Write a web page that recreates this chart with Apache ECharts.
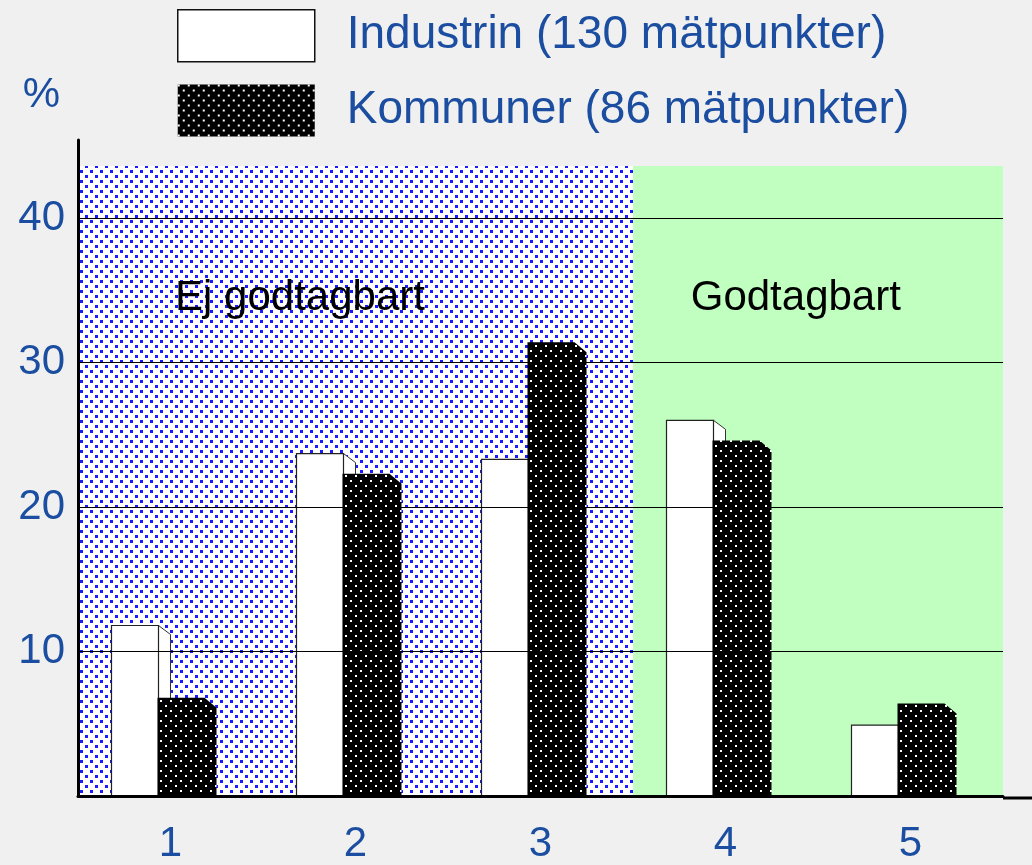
<!DOCTYPE html>
<html>
<head>
<meta charset="utf-8">
<script src="https://cdn.jsdelivr.net/npm/echarts@6/dist/echarts.min.js"></script>
<style>
html, body { margin: 0; padding: 0; background: #f0f0f0; }
#chart { width: 1032px; height: 865px; }
</style>
</head>
<body>
<div id="chart"></div>
<script>
// data
const categories = ['1', '2', '3', '4', '5'];
const industrin = [11.8, 23.7, 23.3, 26.0, 4.9];
const kommuner = [6.8, 22.3, 31.4, 24.6, 6.4];
const seriesNames = ['Industrin (130 mätpunkter)', 'Kommuner (86 mätpunkter)'];
const gridValues = [10, 20, 30, 40];
const zoneNames = ['Ej godtagbart', 'Godtagbart'];
const zoneFrom = [0, 3];
const zoneTo = [3, 5];
const zoneTop = 43.6;

const FONT = '"Liberation Sans", Arial, sans-serif';
const BLUE_TEXT = '#1b4ea0';

// dotted fills
function dotPattern(bg, dot, size) {
  const c = document.createElement('canvas');
  c.width = 10; c.height = 10;
  const ctx = c.getContext('2d');
  ctx.fillStyle = bg;
  ctx.fillRect(0, 0, 10, 10);
  ctx.fillStyle = dot;
  ctx.fillRect(0, 0, size, size);
  ctx.fillRect(5, 5, size, size);
  return { image: c, repeat: 'repeat' };
}
const bluePattern = dotPattern('#ffffff', '#1a1aff', 3);
const blackPattern = dotPattern('#000000', '#ffffff', 2);

let myChart = echarts.init(document.getElementById('chart'));

// bars sit a little left of the tick label
const SHIFT = -7;

// white bar with a small side face
function whiteBar(params, api) {
  const top = api.coord([api.value(0), api.value(1)]);
  const base = api.coord([api.value(0), 0]);
  const x = top[0] + SHIFT, y = top[1], y0 = base[1];
  return {
    type: 'group',
    children: [{
      type: 'polygon',
      shape: { points: [[x - 5, y], [x + 7, y + 9], [x + 7, y0], [x - 5, y0]] },
      style: { fill: '#fff', stroke: '#333', lineWidth: 1 }
    }, {
      type: 'rect',
      shape: { x: x - 52, y: y, width: 47, height: y0 - y },
      style: { fill: '#fff', stroke: '#222', lineWidth: 1.2 }
    }]
  };
}
// black dotted bar with cut corner
function blackBar(params, api) {
  const top = api.coord([api.value(0), api.value(1)]);
  const base = api.coord([api.value(0), 0]);
  const x = top[0] + SHIFT, y = top[1], y0 = base[1];
  return {
    type: 'polygon',
    shape: { points: [[x - 6, y], [x + 41, y], [x + 53, y + 10], [x + 53, y0], [x - 6, y0]] },
    style: { fill: blackPattern, stroke: null }
  };
}

myChart.setOption({
  backgroundColor: '#f0f0f0',
  animation: false,
  textStyle: { fontFamily: FONT },
  grid: { left: 78, right: 29, top: 140, bottom: 67 },
  legend: {
    orient: 'vertical',
    left: 172,
    top: 4,
    itemWidth: 137,
    itemHeight: 52,
    itemGap: 22,
    icon: 'rect',
    selectedMode: false,
    textStyle: { fontSize: 46, color: BLUE_TEXT, fontFamily: FONT, padding: [10, 0, 0, 27] },
    data: [{
      name: seriesNames[0],
      itemStyle: { color: '#fff', borderColor: '#111', borderWidth: 1.5 }
    }, {
      name: seriesNames[1],
      itemStyle: { color: blackPattern, borderWidth: 0 }
    }]
  },
  xAxis: [{
    type: 'category',
    data: categories,
    z: 10,
    axisLine: { lineStyle: { color: '#000', width: 3 } },
    axisTick: { show: false },
    axisLabel: { color: BLUE_TEXT, fontSize: 42, margin: 27, fontFamily: FONT },
    splitLine: { show: false }
  }, {
    type: 'value',
    min: 0,
    max: 5,
    show: false
  }],
  yAxis: {
    type: 'value',
    min: 0,
    max: 45.4,
    interval: 10,
    z: 10,
    name: '%',
    nameLocation: 'end',
    nameGap: 24,
    nameTextStyle: { color: BLUE_TEXT, fontSize: 42, fontFamily: FONT, align: 'right', padding: [0, 18, 0, 0] },
    axisLine: { show: true, lineStyle: { color: '#000', width: 3 } },
    axisTick: { show: false },
    splitLine: { show: false },
    axisLabel: {
      color: BLUE_TEXT,
      fontSize: 42,
      margin: 13,
      fontFamily: FONT,
      formatter: function (v) { return (v > 0 && v % 10 === 0) ? v : ''; }
    }
  },
  series: [{
    // background zones
    type: 'line',
    xAxisIndex: 1,
    data: [],
    z: 1,
    silent: true,
    markArea: {
      silent: true,
      data: zoneNames.map(function (n, i) {
        return [{
          name: n,
          xAxis: zoneFrom[i],
          yAxis: 0,
          itemStyle: { color: i === 0 ? bluePattern : '#c0ffc0' },
          label: {
            show: true,
            position: i === 0 ? ['40%', '21%'] : ['44%', '21%'],
            align: 'center',
            verticalAlign: 'middle',
            fontSize: 42,
            color: '#000',
            fontFamily: FONT
          }
        }, { xAxis: zoneTo[i], yAxis: zoneTop }];
      })
    }
  }, {
    // horizontal grid lines
    type: 'line',
    xAxisIndex: 1,
    data: [],
    z: 2,
    silent: true,
    markLine: {
      silent: true,
      symbol: 'none',
      label: { show: false },
      lineStyle: { color: '#000', width: 1, type: 'solid' },
      data: gridValues.map(function (v) { return { yAxis: v }; })
    }
  }, {
    name: seriesNames[0],
    type: 'custom',
    z: 3,
    itemStyle: { color: '#fff' },
    renderItem: whiteBar,
    encode: { x: 0, y: 1 },
    data: industrin.map(function (v, i) { return [i, v]; })
  }, {
    name: seriesNames[1],
    type: 'custom',
    z: 4,
    itemStyle: { color: blackPattern },
    renderItem: blackBar,
    encode: { x: 0, y: 1 },
    data: kommuner.map(function (v, i) { return [i, v]; })
  }],
  graphic: [{
    // x axis line runs past the plot on the right
    type: 'line',
    z: 10,
    shape: { x1: 1003, y1: 798, x2: 1032, y2: 798 },
    style: { stroke: '#000', lineWidth: 3 }
  }]
});
</script>
</body>
</html>
